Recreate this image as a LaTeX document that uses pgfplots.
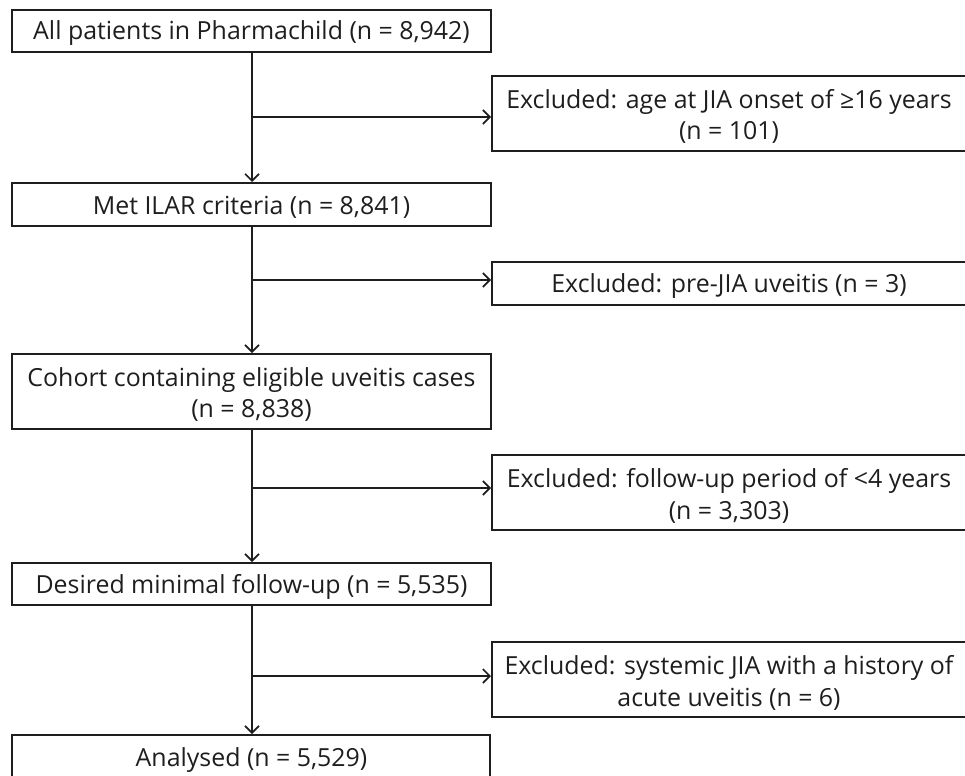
\documentclass[border=0pt]{standalone}
\usepackage{pgfplots}
\pgfplotsset{compat=1.18}
\usetikzlibrary{arrows.meta}
\usepackage{fontspec}
\setmainfont{Open Sans}
\definecolor{ink}{HTML}{1E1E1E}
\begin{document}
\begin{tikzpicture}
\begin{axis}[
  x=1bp, y=1bp, y dir=reverse,
  xmin=0, xmax=965, ymin=0, ymax=776,
  scale only axis,
  axis line style={draw=none},
  xtick=\empty, ytick=\empty,
  clip=true,
  ln/.style={color=ink, solid, line width=1.7bp, line join=miter, mark=none},
  ar/.style={ln, -{Straight Barb[length=7bp,width=14bp,line width=1.6bp]}},
]
% left boxes
\addplot[ln] coordinates {(12,10) (491,10) (491,52) (12,52) (12,10) (491,10)};
\addplot[ln] coordinates {(12,183) (491,183) (491,226) (12,226) (12,183) (491,183)};
\addplot[ln] coordinates {(12,354) (491,354) (491,429) (12,429) (12,354) (491,354)};
\addplot[ln] coordinates {(12,563) (491,563) (491,605) (12,605) (12,563) (491,563)};
\addplot[ln] coordinates {(490,790) (490,735) (12,735) (12,790)};
% right boxes
\addplot[ln] coordinates {(975,76) (492,76) (492,151) (975,151)};
\addplot[ln] coordinates {(975,262) (492,262) (492,305) (975,305)};
\addplot[ln] coordinates {(975,455) (492,455) (492,530) (975,530)};
\addplot[ln] coordinates {(975,642) (492,642) (492,717) (975,717)};
% vertical arrows
\addplot[ar] coordinates {(252,52) (252,182)};
\addplot[ar] coordinates {(252,226) (252,353)};
\addplot[ar] coordinates {(252,429) (252,562)};
\addplot[ar] coordinates {(252,605) (252,734)};
% horizontal arrows
\addplot[ar] coordinates {(252,117) (491,117)};
\addplot[ar] coordinates {(252,280) (491,280)};
\addplot[ar] coordinates {(252,488) (491,488)};
\addplot[ar] coordinates {(252,676) (491,676)};
% texts
\tikzset{lbl/.style={font=\fontsize{25}{32}\selectfont, text=ink, align=center, inner sep=0pt}}
\node[lbl] at (axis cs:251.5,33.5) {All patients in Pharmachild (n = 8,942)};
\node[lbl] at (axis cs:729,116.5) {Excluded: age at JIA onset of ≥16 years\\(n = 101)};
\node[lbl] at (axis cs:251.5,207) {Met ILAR criteria (n = 8,841)};
\node[lbl] at (axis cs:729,286) {Excluded: pre-JIA uveitis (n = 3)};
\node[lbl] at (axis cs:251.5,394.5) {Cohort containing eligible uveitis cases\\(n = 8,838)};
\node[lbl] at (axis cs:729,495.5) {Excluded: follow-up period of <4 years\\(n = 3,303)};
\node[lbl] at (axis cs:251.5,586.5) {Desired minimal follow-up (n = 5,535)};
\node[lbl] at (axis cs:729,682.5) {Excluded: systemic JIA with a history of\\acute uveitis (n = 6)};
\node[lbl] at (axis cs:251.5,760) {Analysed (n = 5,529)};
\end{axis}
\end{tikzpicture}
\end{document}
